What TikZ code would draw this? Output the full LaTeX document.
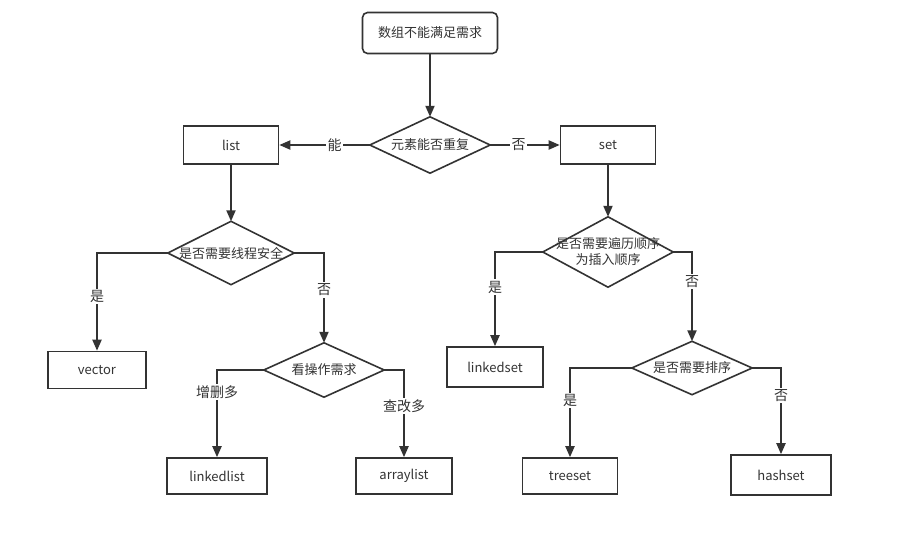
\documentclass[tikz,border=0pt]{standalone}
\usepackage{fontspec}
\setmainfont{Noto Sans CJK SC}
\usetikzlibrary{arrows.meta}
\definecolor{ink}{HTML}{333333}
\begin{document}
\begin{tikzpicture}[x=1pt,y=-1pt,
  every node/.style={font=\fontsize{13}{16}\selectfont, text=ink},
  box/.style={draw=ink, line width=1.6pt, minimum width=#1, minimum height=38pt, inner sep=0pt},
  box/.default=95pt,
  dia/.style={minimum width=#1, inner sep=0pt, align=center},
  conn/.style={draw=ink, line width=2pt, -{Triangle[length=11pt,width=9pt]}},
  lab/.style={fill=white, inner sep=1.5pt, font=\fontsize{14}{16}\selectfont}
]
\path[use as bounding box, fill=white] (0,0) rectangle (905,536);

% nodes
\node[box=135pt, minimum height=41pt, rounded corners=5pt] (top) at (430,33) {数组不能满足需求};
\node[dia=120pt, minimum height=56pt] (d1) at (430,145) {元素能否重复};
\node[box] (list) at (231,145) {list};
\node[box] (set) at (608,145) {set};
\node[dia=126pt, minimum height=63pt] (d2) at (231,253) {是否需要线程安全};
\node[dia=130pt, minimum height=70pt] (d3) at (608,252) {是否需要遍历顺序\\为插入顺序};
\node[box=98pt, minimum height=37pt] (vector) at (97,370) {vector};
\node[dia=120pt, minimum height=54pt] (d4) at (324,370) {看操作需求};
\node[box=96pt, minimum height=40pt] (linkedset) at (495,367) {linkedset};
\node[dia=120pt, minimum height=53pt] (d5) at (692,368) {是否需要排序};
\node[box=100pt, minimum height=36pt] (linkedlist) at (217,476) {linkedlist};
\node[box=96pt, minimum height=36pt] (arraylist) at (404,476) {arraylist};
\node[box=95pt, minimum height=36pt] (treeset) at (570,476) {treeset};
\node[box=100pt, minimum height=40pt] (hashset) at (781,475) {hashset};

% diamonds
\foreach \n in {d1,d2,d3,d4,d5}
  \draw[ink, line width=1.6pt, line join=miter] (\n.north) -- (\n.east) -- (\n.south) -- (\n.west) -- cycle;

% connectors
\draw[conn] (top.south) -- (d1.north);
\draw[conn] (d1.west) -- node[lab, pos=0.39] {能} (list.east);
\draw[conn] (d1.east) -- node[lab, pos=0.41] {否} (set.west);
\draw[conn] (list.south) -- (d2.north);
\draw[conn] (set.south) -- (d3.north);
\draw[conn] (d2.west) -| node[lab, pos=0.724] {是} (vector.north);
\draw[conn] (d2.east) -| node[lab, pos=0.706] {否} (d4.north);
\draw[conn] (d4.west) -| node[lab, pos=0.625] {增删多} (linkedlist.north);
\draw[conn] (d4.east) -| node[lab, pos=0.705] {查改多} (arraylist.north);
\draw[conn] (d3.west) -| node[lab, pos=0.686] {是} (linkedset.north);
\draw[conn] (d3.east) -| node[lab, pos=0.663] {否} (d5.north);
\draw[conn] (d5.west) -| node[lab, pos=0.683] {是} (treeset.north);
\draw[conn] (d5.east) -| node[lab, pos=0.661] {否} (hashset.north);
\end{tikzpicture}
\end{document}
